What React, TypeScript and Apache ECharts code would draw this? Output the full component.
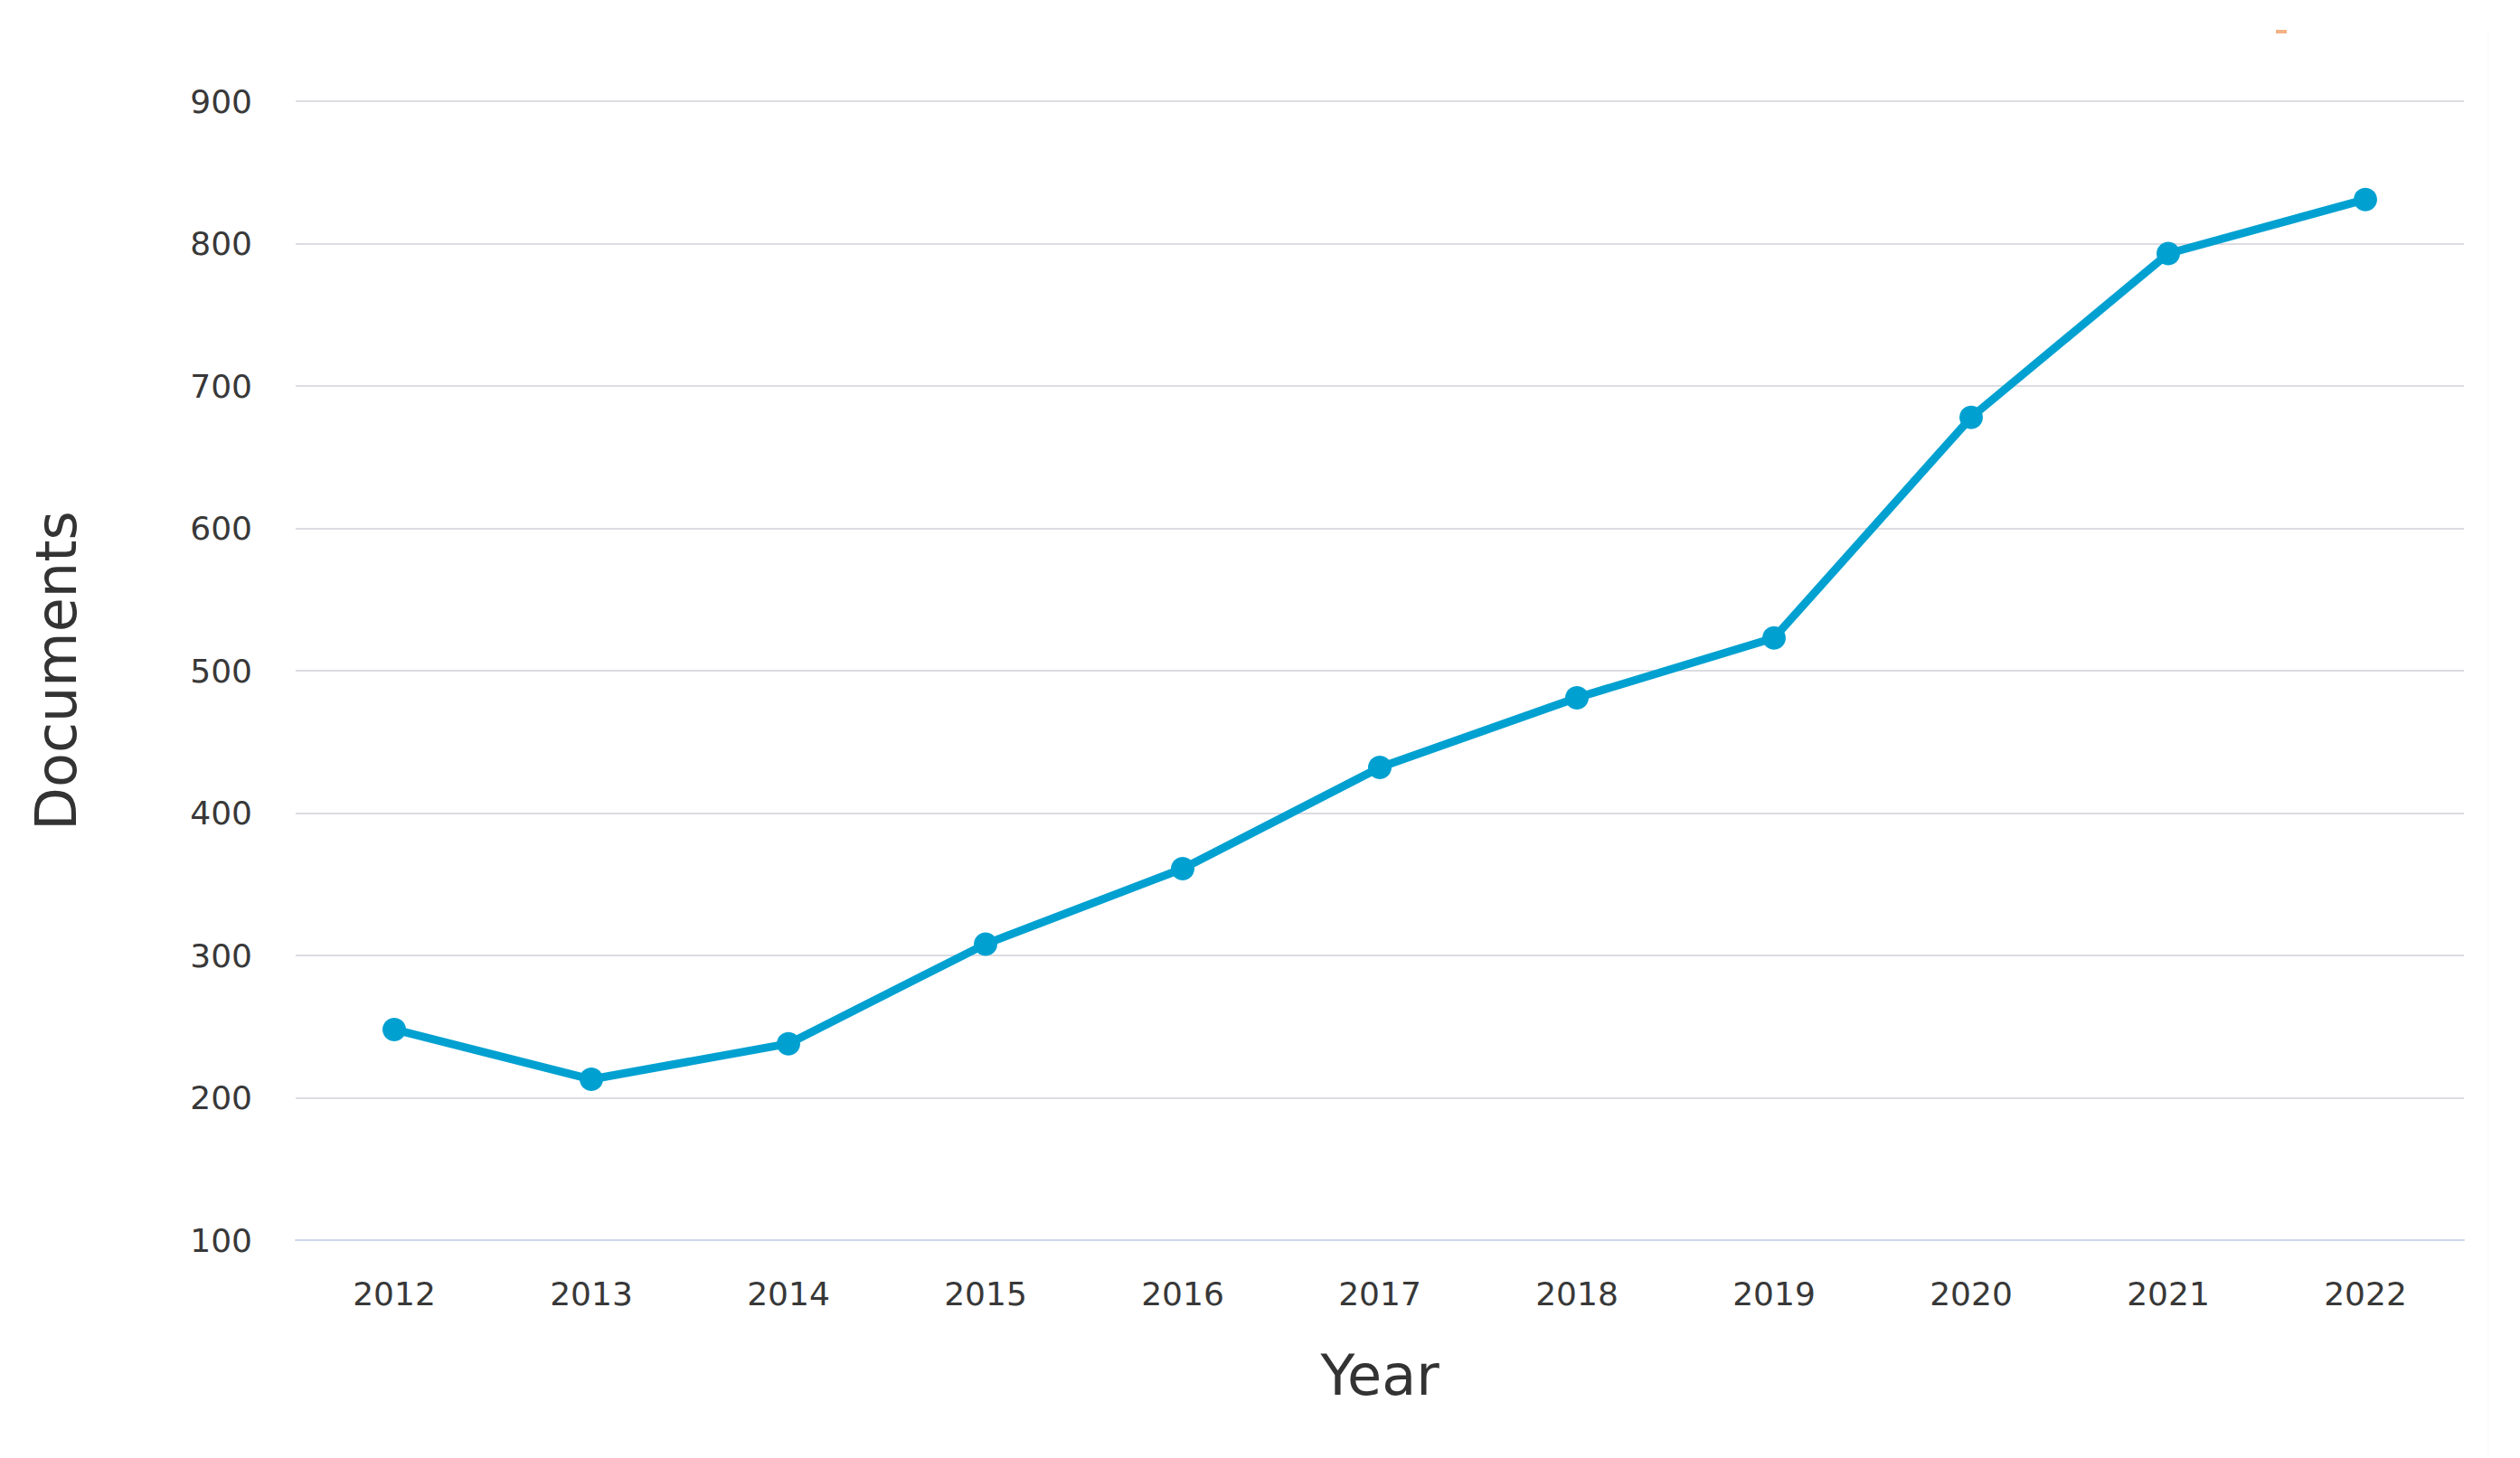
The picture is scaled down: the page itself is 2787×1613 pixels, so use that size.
import React, { useEffect, useRef } from "react";
import * as echarts from "echarts";

const years = ["2012", "2013", "2014", "2015", "2016", "2017", "2018", "2019", "2020", "2021", "2022"];
const documents = [248, 213, 238, 308, 361, 432, 481, 523, 678, 793, 831];
const yMin = 100;
const yMax = 900;
const yStep = 100;

export default function App() {
  const ref = useRef<HTMLDivElement>(null);
  useEffect(() => {
    document.body.style.margin = "0";
    const chart = echarts.init(ref.current!, null, { renderer: "svg" });
    chart.setOption({
      animation: false,
      backgroundColor: "#ffffff",
      textStyle: { fontFamily: "DejaVu Sans" },
      grid: { left: 327, right: 62, top: 112, bottom: 241 },
      xAxis: {
        type: "category",
        data: years,
        boundaryGap: true,
        axisLine: { show: true, lineStyle: { color: "#ccd6eb", width: 2 } },
        axisTick: { show: false },
        axisLabel: { color: "#383838", fontSize: 36, margin: 41, fontFamily: "DejaVu Sans" },
        name: "Year",
        nameLocation: "middle",
        nameGap: 118,
        nameTextStyle: { color: "#333333", fontSize: 62, fontFamily: "DejaVu Sans" },
      },
      yAxis: {
        type: "value",
        min: yMin,
        max: yMax,
        interval: yStep,
        axisLine: { show: false },
        axisTick: { show: false },
        splitLine: { show: true, lineStyle: { color: "#dcdce2", width: 2 } },
        axisLabel: { color: "#383838", fontSize: 36, margin: 48, fontFamily: "DejaVu Sans" },
        name: "Documents",
        nameLocation: "middle",
        nameRotate: 90,
        nameGap: 234,
        nameTextStyle: { color: "#333333", fontSize: 62, fontFamily: "DejaVu Sans" },
      },
      graphic: [
        { type: "rect", shape: { x: 2517, y: 33, width: 12, height: 4 }, style: { fill: "#f4b183" } },
        { type: "line", shape: { x1: 2752, y1: 33, x2: 2752, y2: 1613 }, style: { stroke: "#f7f7f7", lineWidth: 1 } },
      ],
      series: [
        {
          type: "line",
          data: documents,
          symbol: "circle",
          symbolSize: 26,
          lineStyle: { color: "#00a1d1", width: 9 },
          itemStyle: { color: "#00a1d1" },
        },
      ],
    });
    return () => chart.dispose();
  }, []);
  return <div ref={ref} style={{ position: "fixed", left: 0, top: 0, width: 2787, height: 1613 }} />;
}
